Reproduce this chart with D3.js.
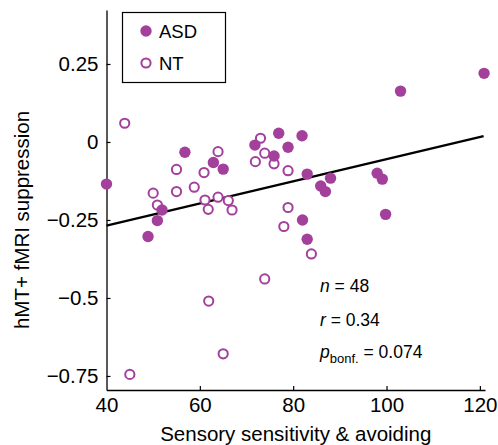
<!DOCTYPE html>
<html>
<head>
<meta charset="utf-8">
<script src="https://cdn.jsdelivr.net/npm/d3@7"></script>
<style>
    body { margin: 0; background: #fff; }
    svg { display: block; font-family: Helvetica, Arial, "Liberation Sans", sans-serif; }
</style>
</head>
<body>
<svg id="chart" width="498" height="445"></svg>
<script>
// values
const asdX = [40, 48.9, 50.9, 51.9, 56.8, 62.9, 65, 71.8, 76.9, 75.9, 78.9, 81.9,
    83, 82, 83, 85.9, 86.9, 88, 98, 99.1, 99.8, 103, 120.9];
const asdY = [-0.135, -0.303, -0.252, -0.218, -0.033, -0.066, -0.087, -0.01, 0.028, -0.045, -0.017, 0.02,
    -0.103, -0.25, -0.312, -0.141, -0.159, -0.116, -0.1, -0.119, -0.232, 0.163, 0.22];

const ntX = [43.9, 55, 50, 50.9, 55, 58.8, 60.9, 61.1, 61.8, 63.9, 63.9, 66.1, 66.9,
    73, 73.9, 71.9, 75.9, 78.9, 78.9, 78, 83.9, 73.9, 61.9, 65, 45];
const ntY = [0.06, -0.088, -0.164, -0.202, -0.159, -0.145, -0.098, -0.186, -0.216, -0.031, -0.177, -0.188, -0.218,
    0.012, -0.036, -0.063, -0.07, -0.092, -0.21, -0.271, -0.359, -0.439, -0.51, -0.679, -0.745];

const fitX = [40, 120.8];
const fitY = [-0.268, 0.019];

const xTicks = [40, 60, 80, 100, 120];
const yTicks = [0.25, 0, -0.25, -0.5, -0.75];
const yTickLabels = ["0.25", "0", "\u22120.25", "\u22120.5", "\u22120.75"];

const legendLabels = ["ASD", "NT"];

const purple = "#a3409b";

const svg = d3.select("#chart");

const x = d3.scaleLinear().domain([40, 121.1]).range([106.5, 485]);
const y = d3.scaleLinear().domain([-0.795, 0.423]).range([390, 10]);

// axes
const xAxis = svg.append("g")
    .attr("transform", `translate(0,${y.range()[0]})`)
    .call(d3.axisBottom(x).tickValues(xTicks).tickSizeInner(-4).tickSizeOuter(0).tickPadding(7));
const yAxis = svg.append("g")
    .attr("transform", `translate(${x.range()[0]},0)`)
    .call(d3.axisLeft(y).tickValues(yTicks).tickFormat((d, i) => yTickLabels[i])
        .tickSizeInner(-4).tickSizeOuter(0).tickPadding(8));

[xAxis, yAxis].forEach((g) => {
    g.select(".domain").attr("stroke", "#000").attr("stroke-width", 1.3);
    g.selectAll(".tick line").attr("stroke", "#000").attr("stroke-width", 1.2);
    g.selectAll(".tick text").attr("fill", "#000").style("font-size", "20.5px")
        .style("font-family", "Helvetica, Arial, 'Liberation Sans', sans-serif");
});
xAxis.select(".tick line").remove();

// axis titles
svg.append("text")
    .attr("x", (x.range()[0] + x.range()[1]) / 2)
    .attr("y", 441)
    .attr("text-anchor", "middle")
    .style("font-size", "20.5px")
    .text("Sensory sensitivity & avoiding");

svg.append("text")
    .attr("transform", `translate(29,${(y(0.25) + y(-0.75)) / 2}) rotate(-90)`)
    .attr("text-anchor", "middle")
    .style("font-size", "20.5px")
    .text("hMT+ fMRI suppression");

// regression line
svg.append("line")
    .attr("x1", x(fitX[0])).attr("y1", y(fitY[0]))
    .attr("x2", x(fitX[1])).attr("y2", y(fitY[1]))
    .attr("stroke", "#000")
    .attr("stroke-width", 2.4);

// NT (open) then ASD (filled)
const nt = ntX.map((v, i) => ({ x: v, y: ntY[i] }));
const asd = asdX.map((v, i) => ({ x: v, y: asdY[i] }));

svg.append("g").selectAll("circle")
    .data(nt)
    .join("circle")
    .attr("cx", (d) => x(d.x))
    .attr("cy", (d) => y(d.y))
    .attr("r", 4.6)
    .attr("fill", "#fff")
    .attr("stroke", purple)
    .attr("stroke-width", 2);

svg.append("g").selectAll("circle")
    .data(asd)
    .join("circle")
    .attr("cx", (d) => x(d.x))
    .attr("cy", (d) => y(d.y))
    .attr("r", 5.7)
    .attr("fill", purple);

// legend
const legend = svg.append("g").attr("transform", "translate(122,12)");
legend.append("rect")
    .attr("x", 0.5).attr("y", 0.5)
    .attr("width", 103).attr("height", 70)
    .attr("fill", "#fff")
    .attr("stroke", "#000")
    .attr("stroke-width", 1.2);
legendLabels.forEach((label, i) => {
    const cy = 19 + i * 32;
    if (i === 0) {
        legend.append("circle").attr("cx", 24).attr("cy", cy).attr("r", 5.7).attr("fill", purple);
    } else {
        legend.append("circle").attr("cx", 24).attr("cy", cy).attr("r", 4.6)
            .attr("fill", "#fff").attr("stroke", purple).attr("stroke-width", 2);
    }
    legend.append("text")
        .attr("x", 37)
        .attr("y", cy + 6.5)
        .style("font-size", "18.5px")
        .text(label);
});

// statistics
const stats = svg.append("g").style("font-size", "17.5px");
const statY = [292, 326, 358];
stats.append("text").attr("x", 320).attr("y", statY[0])
    .html('<tspan font-style="italic">n</tspan> = 48');
stats.append("text").attr("x", 320).attr("y", statY[1])
    .html('<tspan font-style="italic">r</tspan> = 0.34');
stats.append("text").attr("x", 320).attr("y", statY[2])
    .html('<tspan font-style="italic">p</tspan><tspan dy="5" font-size="13px">bonf.</tspan><tspan dy="-5"> = 0.074</tspan>');
</script>
</body>
</html>
